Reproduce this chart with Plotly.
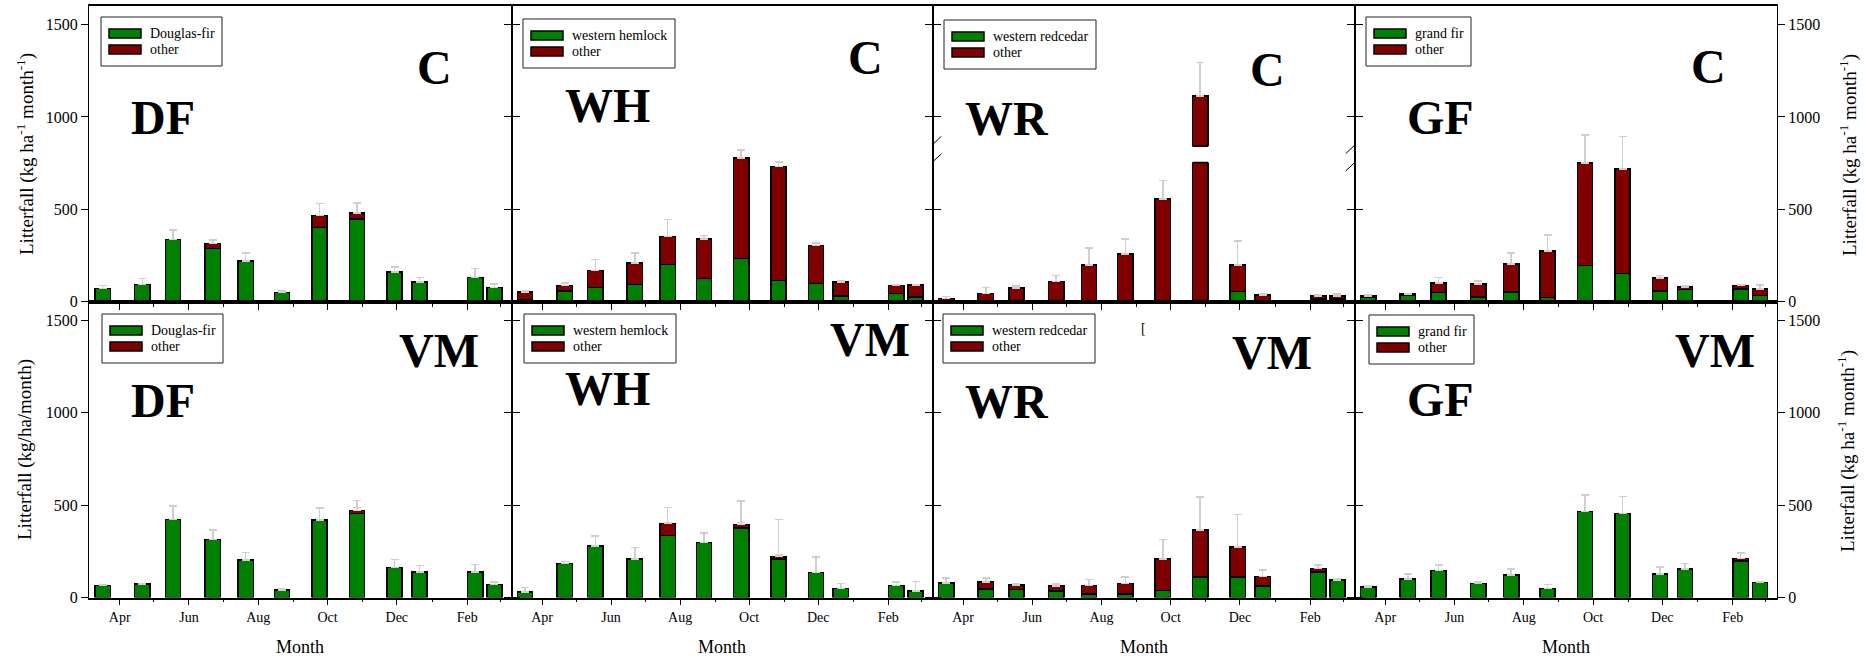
import plotly.graph_objects as go
import pandas as pd

W, H = 1865, 663

# ---------------- data ----------------
sample_dates = ["1999-03-17", "1999-04-21", "1999-05-18", "1999-06-22", "1999-07-21", "1999-08-22",
                "1999-09-24", "1999-10-27", "1999-11-29", "1999-12-21", "2000-02-08", "2000-02-25"]
tick_dates = ["1999-04-01", "1999-06-01", "1999-08-01", "1999-10-01", "1999-12-01", "2000-02-01"]
tick_labels = ["Apr", "Jun", "Aug", "Oct", "Dec", "Feb"]
minor_dates = ["1999-04-01", "1999-05-01", "1999-06-01", "1999-07-01", "1999-08-01", "1999-09-01",
               "1999-10-01", "1999-11-01", "1999-12-01", "2000-01-01", "2000-02-01", "2000-03-01"]

species_names = ["Douglas-fir", "western hemlock", "western redcedar", "grand fir"]
species_codes = ["DF", "WH", "WR", "GF"]
sites = ["C", "VM"]

# Site C
df_c_species = [72, 94, 337, 288, 220, 49, 402, 447, 162, 108, 132, 78]
df_c_total = [72, 94, 337, 315, 220, 49, 467, 481, 162, 108, 132, 78]
df_c_total_err = [15, 32, 51, 18, 45, 9, 65, 54, 27, 24, 48, 18]
df_c_species_err = [None, None, None, 15, None, None, 30, 25, None, None, None, None]

wh_c_species = [13, 58, 78, 94, 202, 126, 234, 114, 99, 32, 45, 27]
wh_c_total = [54, 87, 169, 211, 352, 339, 779, 732, 305, 108, 87, 90]
wh_c_total_err = [6, 16, 60, 54, 93, 20, 43, 25, 14, 6, 5, 4]
wh_c_species_err = [5, 10, 16, 11, 56, 22, 33, 23, 7, 6, 7, 5]

wr_c_species = [0, 3, 3, 0, 0, 0, 0, 0, 56, 4, 14, 14]
wr_c_total = [18, 45, 74, 110, 200, 258, 555, 1114, 200, 36, 31, 32]
wr_c_total_err = [11, 33, 11, 31, 92, 83, 101, 180, 128, 9, 5, 9]
wr_c_species_err = [None, 3, 3, None, None, None, None, None, 65, None, 5, 5]

gf_c_species = [25, 34, 49, 27, 52, 23, 196, 153, 58, 67, 70, 34]
gf_c_total = [32, 41, 101, 96, 205, 274, 752, 719, 128, 81, 88, 70]
gf_c_total_err = [6, 4, 31, 16, 60, 88, 151, 175, 13, 6, 2, 20]
gf_c_species_err = [None, None, 29, 11, 4, 8, 53, 63, 20, None, 15, 15]

# Site VM
df_vm_species = [65, 72, 422, 314, 204, 41, 418, 454, 162, 137, 139, 70]
df_vm_total = [65, 72, 422, 314, 204, 41, 418, 471, 162, 137, 139, 70]
df_vm_total_err = [5, 4, 74, 50, 39, 4, 67, 54, 44, 36, 39, 15]
df_vm_species_err = [None, None, None, None, None, None, None, 33, None, None, None, None]

wh_vm_species = [29, 184, 278, 207, 335, 297, 377, 207, 135, 50, 65, 34]
wh_vm_total = [29, 184, 278, 207, 400, 297, 395, 222, 135, 50, 65, 34]
wh_vm_total_err = [25, 12, 54, 63, 87, 51, 128, 200, 83, 26, 18, 53]
wh_vm_species_err = [None, None, None, None, 71, None, 29, 24, None, None, None, None]

wr_vm_species = [78, 47, 43, 34, 18, 18, 38, 112, 110, 63, 137, 96]
wr_vm_total = [78, 83, 67, 61, 65, 76, 207, 366, 274, 114, 157, 96]
wr_vm_total_err = [27, 22, 9, 11, 32, 36, 108, 177, 175, 34, 20, 5]
wr_vm_species_err = [None, 20, 15, 13, 4, 4, 16, 59, 23, 7, 14, None]

gf_vm_species = [58, 101, 146, 77, 121, 50, 466, 454, 126, 153, 198, 81]
gf_vm_total = [58, 101, 146, 77, 121, 50, 466, 454, 126, 153, 212, 81]
gf_vm_total_err = [7, 25, 29, 8, 32, 20, 89, 92, 40, 32, 28, 5]
gf_vm_species_err = [None] * 12

# y-axis break on the WR (site C) panel
break_lo, break_hi = 753, 842

panels = [
    (df_c_species, df_c_total, df_c_total_err, df_c_species_err),
    (wh_c_species, wh_c_total, wh_c_total_err, wh_c_species_err),
    (wr_c_species, wr_c_total, wr_c_total_err, wr_c_species_err),
    (gf_c_species, gf_c_total, gf_c_total_err, gf_c_species_err),
    (df_vm_species, df_vm_total, df_vm_total_err, df_vm_species_err),
    (wh_vm_species, wh_vm_total, wh_vm_total_err, wh_vm_species_err),
    (wr_vm_species, wr_vm_total, wr_vm_total_err, wr_vm_species_err),
    (gf_vm_species, gf_vm_total, gf_vm_total_err, gf_vm_species_err),
]

# ---------------- styling / layout ----------------
GREEN = "#008000"
RED = "#800000"
ERR = "#cfcfcf"
FONT = "Liberation Serif"
DAY_MS = 86400000
bar_width = 13.5 * DAY_MS

x_edges = [89, 511.5, 932.5, 1354.5, 1777]
row_edges = [(6, 301.8), (301.8, 597.5)]

# legend boxes (top-left pixel corner) and widths
legend_pos = [(101, 17), (523, 19), (944, 20), (1366, 17),
              (102, 314), (524, 314), (943, 314), (1369, 315)]
legend_w = [121, 152, 152, 105]

code_pos = {0: (163, 117), 1: (607, 105), 2: (1007, 118), 3: (1440, 117)}
site_pos_c = {0: (434, 68), 1: (865, 57), 2: (1267, 70), 3: (1708, 67)}
code_pos_vm = {0: (163, 400), 1: (607, 388), 2: (1007, 401), 3: (1440, 399)}
site_pos_vm = {0: (439, 350), 1: (870, 339), 2: (1272, 352), 3: (1715, 350)}


def px(x):
    return x / W


def py(y):
    return 1 - y / H


fig = go.Figure()

for i, (sp, tot, tot_err, sp_err) in enumerate(panels):
    k = i + 1
    col = i % 4
    xa = "x" if k == 1 else f"x{k}"
    ya = "y" if k == 1 else f"y{k}"
    other = [t - s for t, s in zip(tot, sp)]
    fig.add_trace(go.Bar(
        x=sample_dates, y=sp, name=species_names[col], xaxis=xa, yaxis=ya, showlegend=False,
        width=[bar_width] * len(sp),
        marker=dict(color=GREEN, line=dict(color="black", width=1.5)),
        error_y=dict(type="data", array=sp_err, symmetric=False, arrayminus=[0] * len(sp),
                     color=ERR, thickness=1.5, width=4),
    ))
    fig.add_trace(go.Bar(
        x=sample_dates, y=other, name="other", xaxis=xa, yaxis=ya, showlegend=False,
        width=[bar_width] * len(sp),
        marker=dict(color=RED, line=dict(color="black", width=1.5)),
        error_y=dict(type="data", array=tot_err, symmetric=False, arrayminus=[0] * len(sp),
                     color=ERR, thickness=1.5, width=4),
    ))

layout = dict(
    width=W, height=H, barmode="stack",
    margin=dict(l=0, r=0, t=0, b=0),
    paper_bgcolor="white", plot_bgcolor="white",
    font=dict(family=FONT, color="black"),
    showlegend=False,
    annotations=[], shapes=[],
)

for i in range(8):
    k = i + 1
    col = i % 4
    row = i // 4
    xkey = "xaxis" if k == 1 else f"xaxis{k}"
    ykey = "yaxis" if k == 1 else f"yaxis{k}"
    xa = "x" if k == 1 else f"x{k}"
    ya = "y" if k == 1 else f"y{k}"
    x0p, x1p = x_edges[col], x_edges[col + 1]
    top, bot = row_edges[row]
    layout[xkey] = dict(
        domain=[px(x0p), px(x1p)], anchor=ya, type="date",
        range=["1999-03-05", "2000-03-11"],
        tickmode="array", tickvals=tick_dates, ticktext=tick_labels,
        showticklabels=(row == 1), tickfont=dict(family=FONT, size=14, color="black"),
        ticks="outside", ticklen=6, tickwidth=1, tickcolor="black",
        minor=dict(tickmode="array", tickvals=minor_dates, ticks="outside", ticklen=3,
                   tickwidth=1, tickcolor="black", showgrid=False),
        showline=True, linecolor="black", linewidth=1.5, mirror=True,
        showgrid=False, zeroline=False, automargin=False, fixedrange=True,
    )
    layout[ykey] = dict(
        domain=[py(bot), py(top)], anchor=xa, range=[0, 1600],
        tickmode="array", tickvals=[0, 500, 1000, 1500],
        showticklabels=(col in (0, 3)), side=("right" if col == 3 else "left"),
        tickfont=dict(family=FONT, size=16, color="black"),
        ticks="outside", ticklen=7, tickwidth=1, tickcolor="black",
        showline=True, linecolor="black", linewidth=1, mirror="ticks",
        showgrid=False, zeroline=False, automargin=False, fixedrange=True,
    )

    # legend box drawn per panel
    lx, ly = legend_pos[i]
    lw = legend_w[col]
    layout["shapes"].append(dict(
        type="rect", xref="paper", yref="paper", x0=px(lx), x1=px(lx + lw), y0=py(ly + 49), y1=py(ly),
        fillcolor="white", line=dict(color="#222222", width=1), layer="above"))
    for j, (nm, colr) in enumerate([(species_names[col], GREEN), ("other", RED)]):
        sy0 = ly + 12 + 16 * j
        layout["shapes"].append(dict(
            type="rect", xref="paper", yref="paper", x0=px(lx + 8), x1=px(lx + 40),
            y0=py(sy0 + 9), y1=py(sy0), fillcolor=colr,
            line=dict(color="black", width=1.5), layer="above"))
        layout["annotations"].append(dict(
            x=px(lx + 47), y=py(sy0 + 4.5), xref="paper", yref="paper", text=nm,
            showarrow=False, font=dict(family=FONT, size=14, color="black"),
            xanchor="left", yanchor="middle"))

    if row == 0:
        cx, cy = code_pos[col]
        sx, sy = site_pos_c[col]
    else:
        cx, cy = code_pos_vm[col]
        sx, sy = site_pos_vm[col]
    layout["annotations"].append(dict(
        x=px(cx), y=py(cy), xref="paper", yref="paper", text=f"<b>{species_codes[col]}</b>",
        showarrow=False, font=dict(family=FONT, size=48, color="black"),
        xanchor="center", yanchor="middle"))
    layout["annotations"].append(dict(
        x=px(sx), y=py(sy), xref="paper", yref="paper", text=f"<b>{sites[row]}</b>",
        showarrow=False, font=dict(family=FONT, size=48, color="black"),
        xanchor="center", yanchor="middle"))
    if row == 1:
        layout["annotations"].append(dict(
            x=px((x0p + x1p) / 2), y=py(647), xref="paper", yref="paper", text="Month",
            showarrow=False, font=dict(family=FONT, size=18, color="black"),
            xanchor="center", yanchor="middle"))

# y-axis titles
unit_sup = "Litterfall (kg ha<sup>-1</sup> month<sup>-1</sup>)"
for (x, y, t) in [(25, 154, unit_sup), (25, 450, "Litterfall (kg/ha/month)"),
                  (1848, 155, unit_sup), (1846, 451, unit_sup)]:
    layout["annotations"].append(dict(
        x=px(x), y=py(y), xref="paper", yref="paper", text=t, textangle=-90,
        showarrow=False, font=dict(family=FONT, size=19, color="black"),
        xanchor="center", yanchor="middle"))

# stray mark in the WR VM panel
layout["annotations"].append(dict(
    x=px(1143), y=py(328), xref="paper", yref="paper", text="[",
    showarrow=False, font=dict(family=FONT, size=14, color="black"),
    xanchor="center", yanchor="middle"))

# axis break on WR site C panel (bar with the largest total)
wr_idx = wr_c_total.index(max(wr_c_total))
center = pd.Timestamp(sample_dates[wr_idx])
half = pd.Timedelta(days=6.75)
pad = pd.Timedelta(days=8.5)
layout["shapes"].append(dict(
    type="rect", xref="x3", yref="y3", x0=center - pad, x1=center + pad,
    y0=break_lo, y1=break_hi, fillcolor="white", line=dict(width=0), layer="above"))
for yv in (break_lo, break_hi):
    layout["shapes"].append(dict(
        type="line", xref="x3", yref="y3", x0=center - half, x1=center + half,
        y0=yv, y1=yv, line=dict(color="black", width=1.5), layer="above"))
# break marks on the panel edges
for (xd0, xd1, y0, y1) in [(0.0, 0.021, 850, 895), (0.0, 0.021, 756, 800),
                           (0.979, 1.0, 707, 752), (0.979, 1.0, 801, 846)]:
    layout["shapes"].append(dict(
        type="line", xref="x3 domain", yref="y3", x0=xd0, x1=xd1, y0=y0, y1=y1,
        line=dict(color="black", width=1), layer="above"))

fig.update_layout(**layout)
fig.write_html("out.html", config={"displayModeBar": False},
               post_script="document.body.style.margin='0';")
